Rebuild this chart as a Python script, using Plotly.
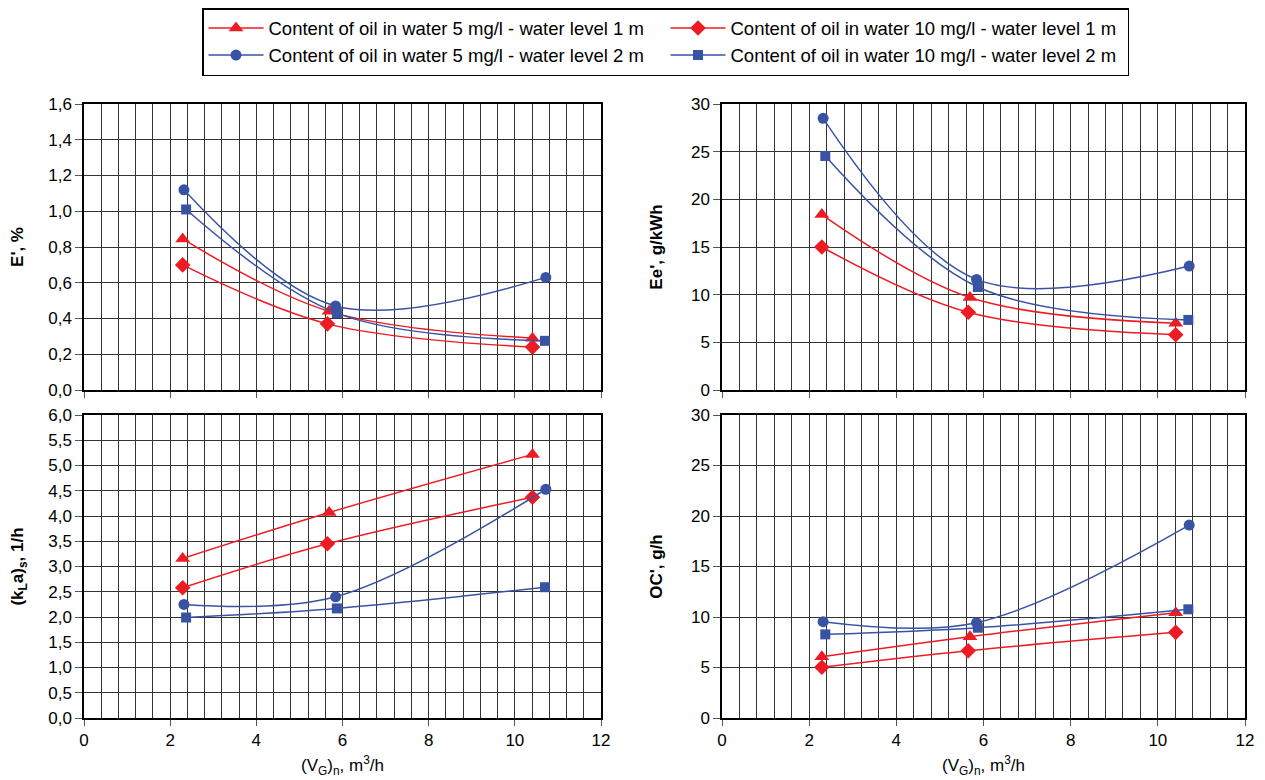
import plotly.graph_objects as go

# ---- data ----
series_names = [
    "Content of oil in water 5 mg/l - water level 1 m",
    "Content of oil in water 10 mg/l - water level 1 m",
    "Content of oil in water 5 mg/l - water level 2 m",
    "Content of oil in water 10 mg/l - water level 2 m",
]
series_colors = ["#ED1C24", "#ED1C24", "#3953A4", "#3953A4"]
series_symbols = ["triangle-up", "diamond", "circle", "square"]

# x values (V_G)_n, m3/h for each series
x_red5 = [2.29, 5.69, 10.41]
x_red10 = [2.29, 5.65, 10.41]
x_blue5 = [2.32, 5.84, 10.72]
x_blue10 = [2.37, 5.87, 10.70]

# E', %
E_red5 = [0.845, 0.44, 0.29]
E_red10 = [0.70, 0.37, 0.24]
E_blue5 = [1.12, 0.47, 0.63]
E_blue10 = [1.01, 0.43, 0.275]

# Ee', g/kWh
Ee_red5 = [18.4, 9.7, 7.0]
Ee_red10 = [15.0, 8.15, 5.8]
Ee_blue5 = [28.5, 11.6, 13.0]
Ee_blue10 = [24.55, 10.8, 7.35]

# (kLa)s, 1/h
K_red5 = [3.16, 4.07, 5.22]
K_red10 = [2.58, 3.45, 4.37]
K_blue5 = [2.25, 2.40, 4.53]
K_blue10 = [1.99, 2.17, 2.59]

# OC', g/h
OC_red5 = [6.07, 8.05, 10.43]
OC_red10 = [5.02, 6.66, 8.48]
OC_blue5 = [9.54, 9.44, 19.1]
OC_blue10 = [8.28, 8.94, 10.76]

xs = [x_red5, x_red10, x_blue5, x_blue10]
panels = [
    ("x", "y", [E_red5, E_red10, E_blue5, E_blue10]),
    ("x2", "y2", [Ee_red5, Ee_red10, Ee_blue5, Ee_blue10]),
    ("x3", "y3", [K_red5, K_red10, K_blue5, K_blue10]),
    ("x4", "y4", [OC_red5, OC_red10, OC_blue5, OC_blue10]),
]
marker_sizes = [13, 12, 11, 10]

fig = go.Figure()
for pi, (xa, ya, ys) in enumerate(panels):
    for si in range(4):
        fig.add_trace(go.Scatter(
            x=xs[si], y=ys[si], xaxis=xa, yaxis=ya,
            mode="lines+markers",
            name=series_names[si],
            showlegend=(pi == 0),
            line=dict(color=series_colors[si], width=1.5, shape="spline", smoothing=1.0),
            marker=dict(symbol=series_symbols[si], size=marker_sizes[si], color=series_colors[si]),
        ))

# page body has an 8px margin, so figure coords = screen coords - 8
OFF = 8
W, H = 1265 - OFF, 780 - OFF

def dx(a, b):
    return [(a - OFF) / W, (b - OFF) / W]

def dy(top, bottom):
    return [1 - (bottom - OFF) / H, 1 - (top - OFF) / H]

xl = dx(84, 601)
xr = dx(722, 1245)
yt = dy(104, 390)
yb = dy(415, 718)

font_family = "Liberation Sans, Arial, sans-serif"
grid_col = "#333333"
TF = 17

def xaxis(domain, anchor, labels):
    return dict(
        domain=domain, anchor=anchor, range=[0, 12], tickvals=[0, 2, 4, 6, 8, 10, 12],
        showticklabels=labels, ticks="outside", ticklen=6, tickcolor="#555",
        showgrid=True, gridcolor=grid_col, gridwidth=1.2,
        minor=dict(dtick=0.4, tick0=0, showgrid=True, gridcolor=grid_col, gridwidth=1.2, ticks=""),
        showline=True, linecolor="black", linewidth=1.5, mirror=True,
        zeroline=False, tickfont=dict(size=TF, color="black"), automargin=False,
        title=dict(text="(V<sub>G</sub>)<sub>n</sub>, m<sup>3</sup>/h" if labels else "",
                   font=dict(size=TF, color="black"), standoff=10),
    )

def yaxis(domain, anchor, rng, dtick, fmt, title):
    return dict(
        domain=domain, anchor=anchor, range=rng, dtick=dtick, tick0=0, tickformat=fmt,
        ticks="outside", ticklen=7, tickcolor="#555",
        showgrid=True, gridcolor=grid_col, gridwidth=1.2,
        showline=True, linecolor="black", linewidth=1.5, mirror=True,
        zeroline=False, tickfont=dict(size=TF, color="black"), automargin=False,
        title=dict(text="<b>" + title + "</b>", font=dict(size=TF, color="black"), standoff=24),
    )

fig.update_layout(
    width=W, height=H,
    margin=dict(l=0, r=0, t=0, b=0, autoexpand=False),
    plot_bgcolor="white", paper_bgcolor="white",
    separators=", ",
    font=dict(family=font_family, color="black", size=TF),
    xaxis=xaxis(xl, "y", False),
    yaxis=yaxis(yt, "x", [0, 1.6], 0.2, ".1f", "E', %"),
    xaxis2=xaxis(xr, "y2", False),
    yaxis2=yaxis(yt, "x2", [0, 30], 5, "d", "Ee', g/kWh"),
    xaxis3=xaxis(xl, "y3", True),
    yaxis3=yaxis(yb, "x3", [0, 6], 0.5, ".1f", "(k<sub>L</sub>a)<sub>s</sub>, 1/h"),
    xaxis4=xaxis(xr, "y4", True),
    yaxis4=yaxis(yb, "x4", [0, 30], 5, "d", "OC', g/h"),
    legend=dict(
        orientation="h", x=(665.5 - OFF) / W, xanchor="center", y=1 - (6 - OFF + 2) / H, yanchor="top",
        bordercolor="black", borderwidth=1.5, bgcolor="white",
        entrywidth=392, font=dict(size=18.5, color="black"),
        tracegroupgap=0, itemwidth=55,
    ),
)

fig.write_html("out.html")
